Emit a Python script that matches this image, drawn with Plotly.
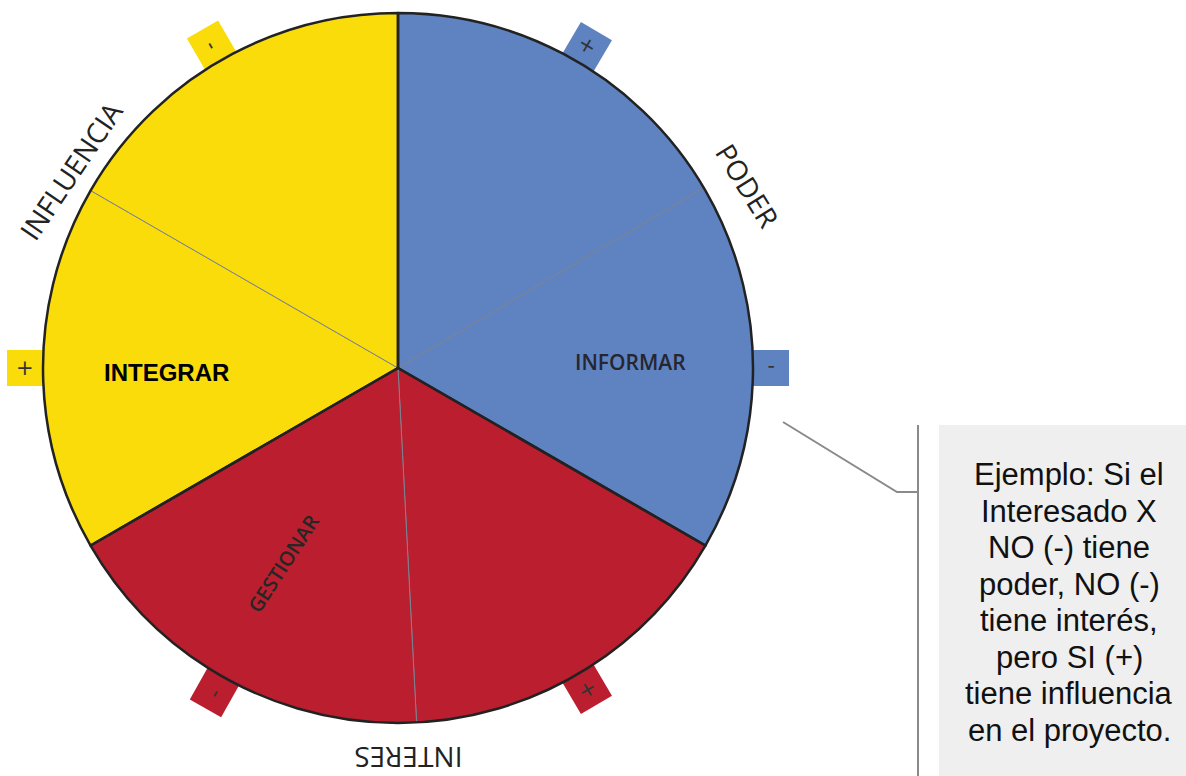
import math
import plotly.graph_objects as go

W, H = 1186, 776
CX, CY, R = 398, 368, 355

BLUE, RED, YELLOW = "#5F82C1", "#BB1E2E", "#F9DC0A"

# --- data ---
groups = ["INFORMAR", "GESTIONAR", "INTEGRAR"]
group_values = [120, 120, 120]
group_colors = [BLUE, RED, YELLOW]

# sub-divisions (degrees of arc)
sub_values = [59.5, 60.5, 57, 63, 60, 60]
sub_colors = [BLUE, BLUE, RED, RED, YELLOW, YELLOW]

axis_names = ["PODER", "INTERES", "INFLUENCIA"]
axis_angles = [62.5, 178.5, 301]
axis_radii = [395, 390, 382]
axis_textangles = [58, 180, -56]

tab_angles = [30.5, 90, 149.5, 209.5, 270, 330]
tab_signs = ["+", "-", "+", "-", "+", "-"]
tab_colors = [BLUE, BLUE, RED, RED, YELLOW, YELLOW]

callout_lines = [
    "Ejemplo: Si el",
    "Interesado X",
    "NO (-) tiene",
    "poder, NO (-)",
    "tiene interés,",
    "pero SI (+)",
    "tiene influencia",
    "en el proyecto.",
]


def polar(angle_deg, r):
    a = math.radians(angle_deg)
    return CX + r * math.sin(a), CY - r * math.cos(a)


dom = dict(x=[(CX - R) / W, (CX + R) / W], y=[1 - (CY + R) / H, 1 - (CY - R) / H])

fig = go.Figure()

# tabs (drawn under the pie)
TAB_R = 373
tx, ty = zip(*[polar(a, TAB_R) for a in tab_angles])
fig.add_trace(go.Scatter(
    x=tx, y=ty, mode="markers",
    marker=dict(symbol="square", size=36, color=tab_colors, angle=tab_angles, line=dict(width=0)),
    hoverinfo="skip", showlegend=False,
))

# callout connector
fig.add_trace(go.Scatter(
    x=[783, 897, 918], y=[422, 492, 492], mode="lines",
    line=dict(color="#8a8a8a", width=2), hoverinfo="skip", showlegend=False,
))

# pie with sub-divisions
fig.add_trace(go.Pie(
    values=sub_values, sort=False, direction="clockwise", rotation=0,
    marker=dict(colors=sub_colors, line=dict(color="#7c8290", width=1)),
    textinfo="none", hoverinfo="skip", showlegend=False, domain=dom,
))
# main group outlines
fig.add_trace(go.Pie(
    values=group_values, labels=groups, sort=False, direction="clockwise", rotation=0,
    marker=dict(colors=["rgba(0,0,0,0)"] * 3, line=dict(color="#222222", width=2.5)),
    textinfo="none", hoverinfo="skip", showlegend=False, domain=dom,
))

ann = []
# tab signs
for a, s, x, y in zip(tab_angles, tab_signs, tx, ty):
    ta = ((a - 270) + 180) % 360 - 180
    ann.append(dict(x=x, y=y, text=s, showarrow=False, textangle=ta,
                    font=dict(family="DejaVu Sans", size=21, color="#333333")))

# axis names around circle
for name, a, r, ta in zip(axis_names, axis_angles, axis_radii, axis_textangles):
    x, y = polar(a, r)
    ann.append(dict(x=x, y=y, text=name, showarrow=False, textangle=ta, borderpad=0,
                    font=dict(family="Open Sans", size=28, color="#222222")))

# group labels
ann.append(dict(x=630, y=362, text=groups[0], showarrow=False,
                font=dict(family="Open Sans", size=21, weight=600, color="#262630")))
ann.append(dict(x=283, y=563, text=groups[1], showarrow=False, textangle=-57,
                font=dict(family="Open Sans", size=20, weight=600, color="#262626")))
ann.append(dict(x=166, y=372, text="<b>" + groups[2] + "</b>", showarrow=False,
                font=dict(family="Liberation Sans, Arial", size=24, color="#000000")))

# callout text
for i, line in enumerate(callout_lines):
    ann.append(dict(x=1069, y=474.5 + i * 36.5, text=line, showarrow=False,
                    font=dict(family="Liberation Sans, Arial", size=31, color="#111111")))

shapes = [
    dict(type="rect", xref="x", yref="y", x0=939, x1=1186, y0=425, y1=776,
         fillcolor="#EFEFEF", line=dict(width=0), layer="below"),
    dict(type="line", xref="x", yref="y", x0=918, x1=918, y0=425, y1=776,
         line=dict(color="#8a8a8a", width=2)),
]

for a in ann:
    a.update(xref="x", yref="y")

fig.update_layout(
    width=W, height=H, margin=dict(l=0, r=0, t=0, b=0),
    paper_bgcolor="white", plot_bgcolor="rgba(0,0,0,0)",
    xaxis=dict(range=[0, W], visible=False, fixedrange=True, domain=[0, 1]),
    yaxis=dict(range=[H, 0], visible=False, fixedrange=True, domain=[0, 1]),
    annotations=ann, shapes=shapes, showlegend=False,
)

fig.write_html("out.html", config={"displayModeBar": False},
               post_script="document.body.style.margin='0';")
